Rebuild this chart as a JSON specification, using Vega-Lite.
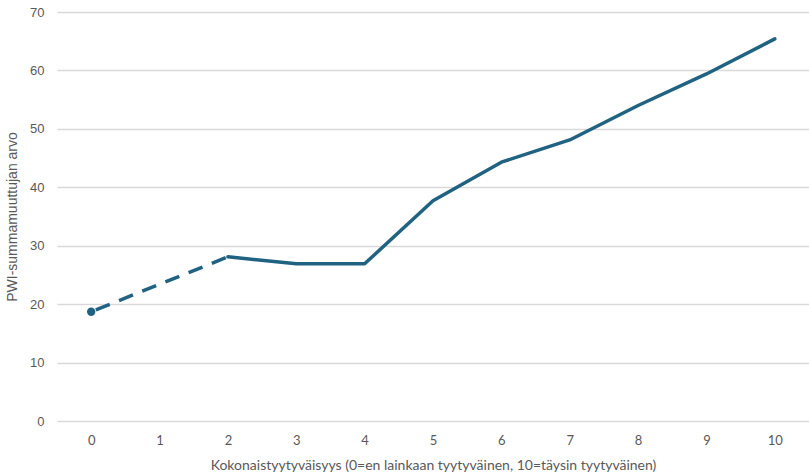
{
  "$schema": "https://vega.github.io/schema/vega-lite/v6.json",
  "autosize": "none",
  "width": 752,
  "height": 409,
  "padding": {"left": 57, "top": 12, "right": 0, "bottom": 54},
  "background": "white",
  "config": {"view": {"stroke": null}},
  "datasets": {
    "solid": [
      {"x": 2, "y": 28.1},
      {"x": 3, "y": 26.9},
      {"x": 4, "y": 26.9},
      {"x": 5, "y": 37.7},
      {"x": 6, "y": 44.3},
      {"x": 7, "y": 48.1},
      {"x": 8, "y": 54.0},
      {"x": 9, "y": 59.4},
      {"x": 10, "y": 65.4}
    ],
    "dashed": [
      {"x": 0, "y": 18.7},
      {"x": 2, "y": 28.1}
    ],
    "dot": [
      {"x": 0, "y": 18.7}
    ]
  },
  "encoding": {
    "x": {
      "field": "x",
      "type": "ordinal",
      "scale": {"type": "point", "domain": [0,1,2,3,4,5,6,7,8,9,10], "padding": 0.5},
      "axis": {
        "title": "Kokonaistyytyväisyys (0=en lainkaan tyytyväinen, 10=täysin tyytyväinen)",
        "titleFont": "Lato",
        "titleFontSize": 14,
        "titleFontWeight": "normal",
        "titleColor": "#595959",
        "titlePadding": 11,
        "labelFont": "Lato",
        "labelFontSize": 13,
        "labelColor": "#595959",
        "labelAngle": 0,
        "labelPadding": 13,
        "domain": false,
        "ticks": false,
        "grid": false
      }
    },
    "y": {
      "field": "y",
      "type": "quantitative",
      "scale": {"domain": [0, 70]},
      "axis": {
        "title": "PWI-summamuuttujan arvo",
        "titleFont": "Liberation Sans",
        "titleFontSize": 14,
        "titleFontWeight": "normal",
        "titleColor": "#595959",
        "titlePadding": 10,
        "labelFont": "Liberation Sans",
        "labelFontSize": 13,
        "labelColor": "#595959",
        "labelPadding": 13,
        "values": [0,10,20,30,40,50,60,70],
        "domain": false,
        "ticks": false,
        "grid": true,
        "gridColor": "#d9d9d9",
        "gridWidth": 1.3
      }
    }
  },
  "layer": [
    {
      "data": {"name": "dashed"},
      "mark": {"type": "line", "color": "#1f6282", "strokeWidth": 3.5, "strokeDash": [15, 10], "strokeDashOffset": -5}
    },
    {
      "data": {"name": "solid"},
      "mark": {"type": "line", "color": "#1f6282", "strokeWidth": 3.5, "strokeCap": "round", "strokeJoin": "round"}
    },
    {
      "data": {"name": "dot"},
      "mark": {"type": "point", "filled": true, "color": "#1f6282", "size": 70, "opacity": 1}
    }
  ]
}
